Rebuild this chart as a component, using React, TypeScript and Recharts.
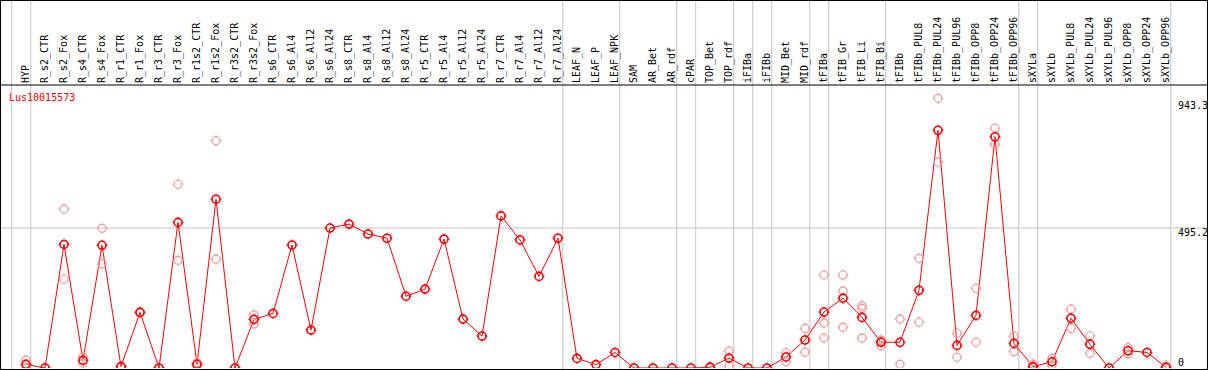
import { LineChart, Line, XAxis, YAxis, ReferenceLine } from "recharts";

const geneId = "Lus10015573";

const categories = [
  "HYP", "R_s2_CTR", "R_s2_Fox", "R_s4_CTR", "R_s4_Fox", "R_r1_CTR", "R_r1_Fox", "R_r3_CTR", "R_r3_Fox",
  "R_r1s2_CTR", "R_r1s2_Fox", "R_r3s2_CTR", "R_r3s2_Fox", "R_s6_CTR", "R_s6_Al4", "R_s6_Al12", "R_s6_Al24",
  "R_s8_CTR", "R_s8_Al4", "R_s8_Al12", "R_s8_Al24", "R_r5_CTR", "R_r5_Al4", "R_r5_Al12", "R_r5_Al24",
  "R_r7_CTR", "R_r7_Al4", "R_r7_Al12", "R_r7_Al24", "LEAF_N", "LEAF_P", "LEAF_NPK", "SAM", "AR_Bet", "AR_rdf",
  "cPAR", "TOP_Bet", "TOP_rdf", "iFIBa", "iFIBb", "MID_Bet", "MID_rdf", "tFIBa", "tFIB_Gr", "tFIB_Li", "tFIB_Bi",
  "tFIBb", "tFIBb_PUL8", "tFIBb_PUL24", "tFIBb_PUL96", "tFIBb_OPP8", "tFIBb_OPP24", "tFIBb_OPP96", "sXYLa",
  "sXYLb", "sXYLb_PUL8", "sXYLb_PUL24", "sXYLb_PUL96", "sXYLb_OPP8", "sXYLb_OPP24", "sXYLb_OPP96",
];

// mean expression per sample (the joined red line)
const meanValues = [
  13, 0, 437, 27, 434, 5, 197, 0, 515, 13, 597, 0, 172, 193, 435, 134, 495, 509, 474, 459, 254, 279, 456, 173, 113,
  538, 453, 324, 459, 34, 12, 55, 0, 0, 0, 0, 2.5, 35, 0, 0, 39, 99, 198, 247, 179, 91, 91, 275, 841, 80, 186, 818,
  87, 5, 22, 176, 84, 0, 61, 55, 2.5,
];

// single replicates (faint circles); null where none is shown
const rep1Values = [
  28, 0, 562, 40, 494, 6, 199, 0, 650, 19, 804, 0, 188, null, null, null, null, null, null, null, null, null, null,
  null, null, null, null, null, null, null, null, null, null, null, null, null, 5, 60, null, null, 54, 140, 329, 329,
  220, 99, 173, 388, 954, 123, 282, 848, 113, 14, 34, 208, 114, null, 72, null, 8,
];
const rep2Values = [
  11, 0, 314, 17, 368, 3, 194, 0, 381, 7, 385, 0, 156, null, null, null, null, null, null, null, null, null, null,
  null, null, null, null, null, null, null, null, null, null, null, null, null, 0, 8, null, null, 22, 56, 159, 272,
  211, 79, 13, 162, 728, 38, 91, 791, 58, 0, 10, 140, 52, null, 50, null, 0,
];
const rep3Values = [
  0, null, null, null, null, null, null, null, null, null, null, null, null, null, null, null, null, null, null, null,
  null, null, null, null, null, null, null, null, null, null, null, null, null, null, null, null, null, null, null,
  null, null, null, 106, 144, 106, 95, null, null, null, null, null, null, null, null, null, null, null, null, null,
  null, null,
];

const yTicks = [0, 495.2, 943.3];
// sample index after which a group separator is drawn
const groupEnds = [0, 1, 29, 32, 35, 36, 38, 39, 40, 42, 43, 46, 53, 54, 61];

const data = categories.map((name, i) => ({
  idx: i + 1,
  name,
  mean: meanValues[i],
  r1: rep1Values[i],
  r2: rep2Values[i],
  r3: rep3Values[i],
}));

const MONO = '"DejaVu Sans Mono", monospace';
const RED = "#ff0000";
const FAINT = "#ef9a9a";
const GRID = "#c4c4c4";

function Marker({ cx, cy, color, width }: any) {
  if (cx == null || cy == null || Number.isNaN(cy)) return <g />;
  const d = `M${cx} ${cy - 4}v-1.5M${cx} ${cy + 4}v1.5M${cx - 4} ${cy}h-1.5M${cx + 4} ${cy}h1.5`;
  return (
    <g>
      <circle cx={cx} cy={cy} r={4} fill="none" stroke={color} strokeWidth={width} />
      <path d={d} stroke={color} strokeWidth={1} />
    </g>
  );
}

const faintDot = (p: any) => <Marker key={`f-${p.dataKey}-${p.index}`} cx={p.cx} cy={p.value == null ? null : p.cy} color={FAINT} width={1.2} />;
const meanDot = (p: any) => <Marker key={`m-${p.index}`} cx={p.cx} cy={p.cy} color={RED} width={1.6} />;

function CategoryTick({ x, y, payload }: any) {
  const label = categories[payload.value - 1] ?? "";
  return (
    <text transform={`translate(${x + 3},${y}) rotate(-90)`} fontFamily={MONO} fontSize={10} fill="#000">
      {label}
    </text>
  );
}

// right-hand value labels sit just inside the frame, left of its right edge
function ValueTick({ y, payload }: any) {
  const v = payload.value;
  return (
    <text x={1178} y={v === 0 ? y - 2 : y + 8} fontFamily={MONO} fontSize={10} fill="#000">
      {v}
    </text>
  );
}

export default function App() {
  return (
    <div style={{ position: "relative", width: 1209, height: 370, background: "#fff" }}>
      <style>{"body{margin:0}"}</style>
      <LineChart width={1209} height={370} data={data} margin={{ top: 0, right: 1, bottom: 2, left: 1 }}>
        <XAxis
          dataKey="idx"
          type="number"
          orientation="top"
          height={85}
          domain={[1 - 25 / 19, 61 + 41 / 19]}
          allowDataOverflow
          ticks={data.map((d) => d.idx)}
          interval={0}
          tick={<CategoryTick />}
          tickLine={false}
          tickSize={0}
          tickMargin={2}
          axisLine={{ stroke: "#000" }}
        />
        <YAxis
          orientation="right"
          width={1}
          domain={[0, 1001]}
          allowDataOverflow
          ticks={yTicks}
          interval={0}
          tick={<ValueTick />}
          tickLine={false}
          tickSize={0}
          tickMargin={0}
          axisLine={false}
        />
        <ReferenceLine y={495.2} stroke={GRID} ifOverflow="visible" />
        {groupEnds.map((k) => (
          <ReferenceLine
            key={k}
            segment={[
              { x: k + 0.25, y: -10 },
              { x: k + 0.25, y: 1320 },
            ]}
            stroke={GRID}
            ifOverflow="visible"
          />
        ))}
        <Line dataKey="r1" stroke="none" dot={faintDot} activeDot={false} isAnimationActive={false} />
        <Line dataKey="r2" stroke="none" dot={faintDot} activeDot={false} isAnimationActive={false} />
        <Line dataKey="r3" stroke="none" dot={faintDot} activeDot={false} isAnimationActive={false} />
        <Line dataKey="mean" stroke={RED} strokeWidth={1} dot={meanDot} activeDot={false} isAnimationActive={false} />
      </LineChart>
      <svg width={1209} height={370} style={{ position: "absolute", left: 0, top: 0, pointerEvents: "none" }}>
        <rect x={0.5} y={0.5} width={1207} height={369} fill="none" stroke="#000" />
        <text x={9} y={101} fontFamily={MONO} fontSize={10} fill={RED}>
          {geneId}
        </text>
      </svg>
    </div>
  );
}
